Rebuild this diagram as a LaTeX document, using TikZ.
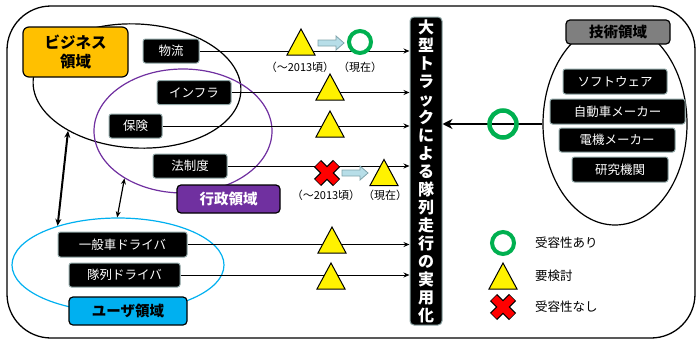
\documentclass[tikz,border=0pt]{standalone}
\usepackage{fontspec}
\setmainfont{Noto Sans CJK JP}
\usetikzlibrary{shapes.geometric,arrows.meta}
\definecolor{itemedge}{HTML}{8FA6A6}
\definecolor{okgreen}{HTML}{00B050}
\definecolor{bizorange}{HTML}{FFC000}
\definecolor{govpurple}{HTML}{7030A0}
\definecolor{usercyan}{HTML}{00B0F0}
\definecolor{techgray}{HTML}{7F7F7F}
\definecolor{blockblue}{HTML}{B7DEE8}
\definecolor{blockedge}{HTML}{7FA3AB}
\begin{document}
\begin{tikzpicture}[x=1pt,y=-1pt,
  item/.style={fill=black, draw=itemedge, line width=1pt, rounded corners=2.5pt,
    text=white, font=\fontsize{12.5}{14}\selectfont, inner sep=0pt, minimum height=24pt},
  domlabel/.style={draw=black, line width=1.2pt, rounded corners=4pt, inner sep=0pt,
    font=\fontsize{14.5}{16}\selectfont\bfseries, minimum height=28pt},
  conn/.style={line width=1pt, -{Stealth[length=6pt,width=5pt]}},
  note/.style={font=\fontsize{11}{12}\selectfont, inner sep=0pt},
  legtext/.style={font=\fontsize{12.5}{14}\selectfont, inner sep=0pt, anchor=west},
  tri/.pic={\draw[fill=yellow, line width=1pt, line join=miter] (-14,13)--(0,-13)--(14,13)--cycle;},
  okcirc/.pic={\draw[okgreen, line width=4pt] (0,0) circle[radius=11];},
  bigok/.pic={\draw[okgreen, line width=4.5pt] (0,0) circle[radius=13.5];},
  ngx/.pic={\draw[black, line width=10pt] (-9.5,-9.5)--(9.5,9.5) (-9.5,9.5)--(9.5,-9.5);
            \draw[red, line width=7.5pt] (-9,-9)--(9,9) (-9,9)--(9,-9);},
  blockarrow/.pic={\draw[fill=blockblue, draw=blockedge, line width=0.8pt]
     (-13,-3)--(5,-3)--(5,-7)--(13,0)--(5,7)--(5,3)--(-13,3)--cycle;}
]
\useasboundingbox (0,0) rectangle (698,340);

% outer frame
\node[draw, line width=1.3pt, rounded corners=44pt, minimum width=688pt, minimum height=332pt] (frame) at (351,172) {};

% ellipses
\node[ellipse, draw, line width=1.2pt, minimum width=208pt, minimum height=124pt, rotate=-3] (bizell) at (137,86) {};
\node[ellipse, draw=govpurple, line width=1.2pt, minimum width=178pt, minimum height=124pt] (govell) at (183,131) {};
\node[ellipse, draw=usercyan, line width=1.2pt, minimum width=212pt, minimum height=94pt] (userell) at (118,265) {};
\node[ellipse, draw, line width=1.2pt, minimum width=144pt, minimum height=202pt] (techell) at (615,124) {};

% central bar
\node[fill=black, draw=itemedge, line width=1pt, rounded corners=4pt, minimum width=32pt, minimum height=308pt,
  text=white, inner sep=0pt, align=center, font=\fontsize{16}{18}\selectfont\bfseries] (bar) at (426,171)
  {大\\型\\ト\\ラ\\ッ\\ク\\に\\よ\\る\\隊\\列\\走\\行\\の\\実\\用\\化};

% domain labels
\node[domlabel, fill=bizorange, minimum width=105pt, minimum height=50pt, align=center,
  font=\fontsize{15.5}{19}\selectfont\bfseries, rounded corners=6pt] (bizlab) at (75.5,52) {ビジネス\\領域};
\node[domlabel, fill=govpurple, text=white, minimum width=103pt] (govlab) at (228.5,199) {行政領域};
\node[domlabel, fill=usercyan, minimum width=118pt] (userlab) at (128,311) {ユーザ領域};
\node[domlabel, fill=techgray, minimum width=104pt, minimum height=24pt] (techlab) at (618,32) {技術領域};

% left items
\node[item, minimum width=56pt] (butsuryu) at (171,51) {物流};
\node[item, minimum width=74pt] (infra) at (194,92.5) {インフラ};
\node[item, minimum width=53pt] (hoken) at (135.5,126) {保険};
\node[item, minimum width=74pt] (hosei) at (190,166) {法制度};
\node[item, minimum width=129pt, minimum height=25pt] (ippan) at (122.5,244.5) {一般車ドライバ};
\node[item, minimum width=111pt] (tairetsu) at (124.5,275) {隊列ドライバ};

% tech items
\node[item, minimum width=104pt, minimum height=25pt] (soft) at (615,81.5) {ソフトウェア};
\node[item, minimum width=135pt, minimum height=25pt] (auto) at (617.5,111.5) {自動車メーカー};
\node[item, minimum width=116pt] (denki) at (617,140) {電機メーカー};
\node[item, minimum width=96pt, minimum height=25pt] (kenkyu) at (620,169.5) {研究機関};

% connectors to bar
\draw[conn] (butsuryu.east) -- (butsuryu.east -| bar.west);
\draw[conn] (infra.east) -- (infra.east -| bar.west);
\draw[conn] (hoken.east) -- (hoken.east -| bar.west);
\draw[conn] (hosei.east) -- (hosei.east -| bar.west);
\draw[conn] (ippan.east) -- (ippan.east -| bar.west);
\draw[conn] (tairetsu.east) -- (tairetsu.east -| bar.west);
\draw[line width=2.5pt, -{Stealth[length=10pt,width=10pt]}] (techell.west) -- (techell.west -| bar.east);

% double arrows between domains
\draw[line width=2pt, {Stealth[length=7pt,width=6pt]}-{Stealth[length=7pt,width=6pt]}] (bizell.216) -- (userell.147);
\draw[line width=1.2pt, {Stealth[length=6pt,width=5pt]}-{Stealth[length=6pt,width=5pt]}] (govell.219) -- (userell.91);

% markers on lines
\pic at (301,42) {tri};
\pic at (331,43) {blockarrow};
\pic at (360,42) {okcirc};
\node[note] (n1a) at (300,67) {（～2013頃）};
\node[note] (n1b) at (360,67) {（現在）};
\pic at (330,87) {tri};
\pic at (330,124) {tri};
\pic at (327,173) {ngx};
\pic at (355,173) {blockarrow};
\pic at (384,172.5) {tri};
\node[note] (n2a) at (326,195) {（～2013頃）};
\node[note] (n2b) at (385,195) {（現在）};
\pic at (332,240) {tri};
\pic at (331,276) {tri};
\pic at (503,124) {bigok};

% legend
\pic at (503,243) {okcirc};
\pic at (503,276) {tri};
\pic at (503,307) {ngx};
\node[legtext] (leg1) at (535,243) {受容性あり};
\node[legtext] (leg2) at (535,276) {要検討};
\node[legtext] (leg3) at (535,307) {受容性なし};
\end{tikzpicture}
\end{document}
